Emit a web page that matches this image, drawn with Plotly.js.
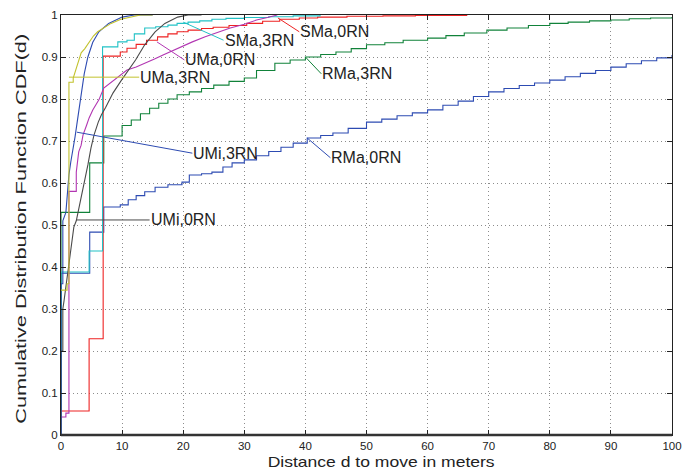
<!DOCTYPE html>
<html><head><meta charset="utf-8">
<script src="https://cdn.plot.ly/plotly-3.0.1.min.js"></script>
<style>html,body{margin:0;padding:0;background:#fff}#chart{width:696px;height:473px}</style>
</head><body><div id="chart"></div>
<script>
// ---- data ----
// smooth-looking series are polylines (vertical jumps given as repeated x)
const umi3X = [0, 0, 0.3, 0.3, 0.8, 1.1, 1.3, 1.6, 2.0, 2.3, 2.6, 3.0, 3.4, 3.8, 4.4, 5.2, 6.2, 7.8, 10, 12, 15];
const umi3Y = [0, 0.36, 0.36, 0.51, 0.53, 0.59, 0.62, 0.65, 0.68, 0.71, 0.74, 0.78, 0.82, 0.86, 0.9, 0.935, 0.96, 0.98, 0.995, 1, 1];

const uma3X = [0, 1.0, 1.0, 1.3, 1.3, 2.0, 2.0, 2.4, 2.9, 3.3, 3.9, 4.6, 5.3, 6.0, 7.0, 8.2, 9.8, 11.5, 13, 15];
const uma3Y = [0.345, 0.345, 0.36, 0.36, 0.84, 0.84, 0.85, 0.87, 0.89, 0.91, 0.92, 0.936, 0.95, 0.96, 0.97, 0.98, 0.99, 0.995, 1, 1];

const umi0X = [0, 0, 0.3, 0.3, 0.5, 0.8, 1.1, 1.3, 1.6, 1.9, 2.1, 2.5, 3.3, 3.8, 4.4, 4.9, 5.4, 6.1, 6.6, 7.3, 8.5, 9.9, 11.3, 12.2, 13.7, 15.4, 17, 19.1, 20.8, 23];
const umi0Y = [0, 0.2, 0.2, 0.3, 0.32, 0.353, 0.376, 0.41, 0.44, 0.47, 0.495, 0.51, 0.564, 0.602, 0.643, 0.683, 0.714, 0.745, 0.762, 0.78, 0.814, 0.845, 0.874, 0.893, 0.929, 0.96, 0.98, 0.995, 1, 1];

const uma0X = [0, 0.8, 0.8, 1.3, 1.3, 2.5, 2.5, 2.9, 3.3, 3.6, 4.2, 4.6, 5.2, 6.2, 7.0, 8.2, 9.5, 10.8, 12.3, 14, 15.3, 16.7, 18.2, 19.8, 21.5, 23.6, 25.5, 27.7, 30, 32, 33.8, 35.4];
const uma0Y = [0.043, 0.043, 0.052, 0.052, 0.58, 0.58, 0.626, 0.674, 0.69, 0.714, 0.738, 0.755, 0.774, 0.798, 0.826, 0.84, 0.855, 0.869, 0.876, 0.886, 0.895, 0.905, 0.915, 0.924, 0.936, 0.948, 0.958, 0.969, 0.978, 0.988, 0.994, 1];

// step series (hv)
const sma3X = [0, 0, 4.6, 6.8, 9.3, 10.8, 12, 13.7, 15.5, 17.5, 19, 20.8, 22.7, 24.7, 27, 30, 34, 38, 42.4];
const sma3Y = [0, 0.388, 0.438, 0.924, 0.936, 0.94, 0.955, 0.969, 0.972, 0.976, 0.98, 0.983, 0.986, 0.99, 0.992, 0.994, 0.996, 0.998, 1];

const sma0X = [0, 0, 4.6, 6.9, 9.7, 10.8, 12.3, 14, 15.8, 17.5, 19, 20.8, 23, 24.9, 27.5, 30.4, 33, 35.8, 39, 42, 46.8, 52.7, 58, 66.4];
const sma0Y = [0, 0.057, 0.229, 0.902, 0.912, 0.921, 0.93, 0.94, 0.948, 0.955, 0.96, 0.964, 0.968, 0.971, 0.975, 0.98, 0.985, 0.99, 0.993, 0.995, 0.997, 0.998, 0.999, 1];

const rma3X = [0, 0, 4.7, 7, 10, 11.5, 13, 14.5, 16, 17.5, 19, 21, 23, 25, 27.5, 30, 32, 35, 37.5, 40, 42.5, 45, 47.5, 50, 53, 56, 60, 63, 66, 69.7, 73, 76.5, 80, 83, 86.5, 90, 93, 96.5, 100];
const rma3Y = [0, 0.53, 0.648, 0.712, 0.737, 0.75, 0.765, 0.778, 0.79, 0.8, 0.81, 0.817, 0.825, 0.833, 0.842, 0.85, 0.868, 0.885, 0.893, 0.9, 0.906, 0.912, 0.92, 0.929, 0.934, 0.94, 0.945, 0.951, 0.957, 0.964, 0.969, 0.975, 0.98, 0.983, 0.986, 0.988, 0.991, 0.993, 0.995];

const rma0X = [0, 0, 4.7, 7, 9.7, 11, 12.3, 13.7, 15.4, 17.5, 19.8, 21, 23, 24.7, 26.5, 28, 30, 32, 34, 36, 38, 40.3, 42.5, 44.5, 47, 50, 52.5, 55, 57.5, 60, 62.5, 65, 67.5, 70, 72.5, 75, 77.5, 80, 82.5, 85, 87.5, 90, 92.5, 95, 97.5, 100];
const rma0Y = [0, 0.385, 0.483, 0.543, 0.548, 0.56, 0.57, 0.579, 0.59, 0.596, 0.602, 0.619, 0.622, 0.626, 0.638, 0.648, 0.655, 0.665, 0.675, 0.685, 0.695, 0.707, 0.713, 0.719, 0.73, 0.745, 0.752, 0.76, 0.767, 0.774, 0.785, 0.795, 0.806, 0.817, 0.825, 0.832, 0.838, 0.845, 0.853, 0.861, 0.868, 0.876, 0.884, 0.891, 0.898, 0.905];

// labels: name, point on curve (x,y), label anchor (x,y)
const labelNames = ['SMa,3RN', 'SMa,0RN', 'UMa,0RN', 'UMa,3RN', 'UMi,3RN', 'UMi,0RN', 'RMa,3RN', 'RMa,0RN'];
const labelPtX = [20, 35.5, 15.7, 1.3, 2.6, 2.6, 40, 40.3];
const labelPtY = [0.983, 0.993, 0.936, 0.852, 0.721, 0.512, 0.9, 0.707];
const labelTxtX = [26.6, 39.0, 20.2, 12.8, 21.5, 14.5, 42.6, 44.1];
const labelTxtY = [0.94, 0.96, 0.893, 0.852, 0.671, 0.512, 0.86, 0.66];

const xTicks = [0, 10, 20, 30, 40, 50, 60, 70, 80, 90, 100];
const yTicks = [0, 0.1, 0.2, 0.3, 0.4, 0.5, 0.6, 0.7, 0.8, 0.9, 1];
const yTickText = ['0', '0.1', '0.2', '0.3', '0.4', '0.5', '0.6', '0.7', '0.8', '0.9', '1'];
const xTitle = 'Distance d to move in meters';
const yTitle = 'Cumulative Distribution Function CDF(d)';

// ---- styling ----
const FONT = 'Liberation Sans, Arial, Helvetica, sans-serif';
const colors = {
  rma0: '#2d4bb2', rma3: '#11823a', sma0: '#ee2222', sma3: '#22c2c6',
  uma0: '#b236b2', uma3: '#c2c22e', umi3: '#2d4bb2', umi0: '#4a4a4a'
};
function tr(x, y, c, shape) {
  return {x: x, y: y, type: 'scatter', mode: 'lines', line: {shape: shape, color: c, width: 1.1}, hoverinfo: 'skip'};
}
const traces = [
  tr(rma0X, rma0Y, colors.rma0, 'hv'),
  tr(rma3X, rma3Y, colors.rma3, 'hv'),
  tr(sma0X, sma0Y, colors.sma0, 'hv'),
  tr(sma3X, sma3Y, colors.sma3, 'hv'),
  tr(uma0X, uma0Y, colors.uma0, 'linear'),
  tr(umi0X, umi0Y, colors.umi0, 'linear'),
  tr(umi3X, umi3Y, colors.umi3, 'linear'),
  tr(uma3X, uma3Y, colors.uma3, 'linear')
];
const labelColors = [colors.sma3, colors.sma0, colors.uma0, colors.uma3, colors.umi3, colors.umi0, colors.rma3, colors.rma0];

const annotations = labelNames.map((n, i) => ({
  x: labelPtX[i], y: labelPtY[i], xref: 'x', yref: 'y',
  ax: labelTxtX[i], ay: labelTxtY[i], axref: 'x', ayref: 'y',
  text: n, showarrow: true, arrowhead: 0, arrowwidth: 1, arrowcolor: labelColors[i],
  standoff: 0, startstandoff: 0, xanchor: 'left', yanchor: 'middle', borderpad: 0,
  font: {family: FONT, size: 16, color: '#222'}
}));
// axis titles as paper annotations
annotations.push({
  xref: 'paper', yref: 'paper', x: 0.523, y: -0.063, xanchor: 'center', yanchor: 'middle',
  text: xTitle, showarrow: false, font: {family: FONT, size: 15, color: '#222'}
});
annotations.push({
  xref: 'paper', yref: 'paper', x: -0.066, y: 0.491, xanchor: 'center', yanchor: 'middle', textangle: -90,
  text: yTitle, showarrow: false, font: {family: FONT, size: 14, color: '#222'}
});

const axisCommon = {
  showgrid: true, gridcolor: '#8c8c8c', griddash: '1px,3px', gridwidth: 1,
  zeroline: false, showline: true, linecolor: '#222', linewidth: 1, mirror: 'allticks',
  ticks: 'inside', ticklen: 5, tickcolor: '#222',
  tickfont: {family: FONT, size: 11.5, color: '#222'}
};
const layout = {
  width: 696, height: 473,
  margin: {l: 61, r: 24, t: 15, b: 38},
  paper_bgcolor: '#fff', plot_bgcolor: '#fff',
  showlegend: false,
  xaxis: Object.assign({}, axisCommon, {range: [0, 100], tickvals: xTicks, ticktext: xTicks.map(String)}),
  yaxis: Object.assign({}, axisCommon, {range: [0, 1], tickvals: yTicks, ticktext: yTickText}),
  shapes: [{type: 'line', xref: 'paper', yref: 'paper', x0: 0, x1: 1, y0: 0, y1: 0, line: {color: '#333', width: 2.5}}],
  annotations: annotations
};
Plotly.newPlot('chart', traces, layout, {staticPlot: true, displayModeBar: false}).then(function () {
  const stretch = {};
  stretch[xTitle] = 227;
  stretch[yTitle] = 390;
  document.querySelectorAll('text').forEach(function (t) {
    const L = stretch[t.textContent];
    if (L) { t.setAttribute('textLength', L); t.setAttribute('lengthAdjust', 'spacingAndGlyphs'); }
  });
});
</script>
</body></html>
